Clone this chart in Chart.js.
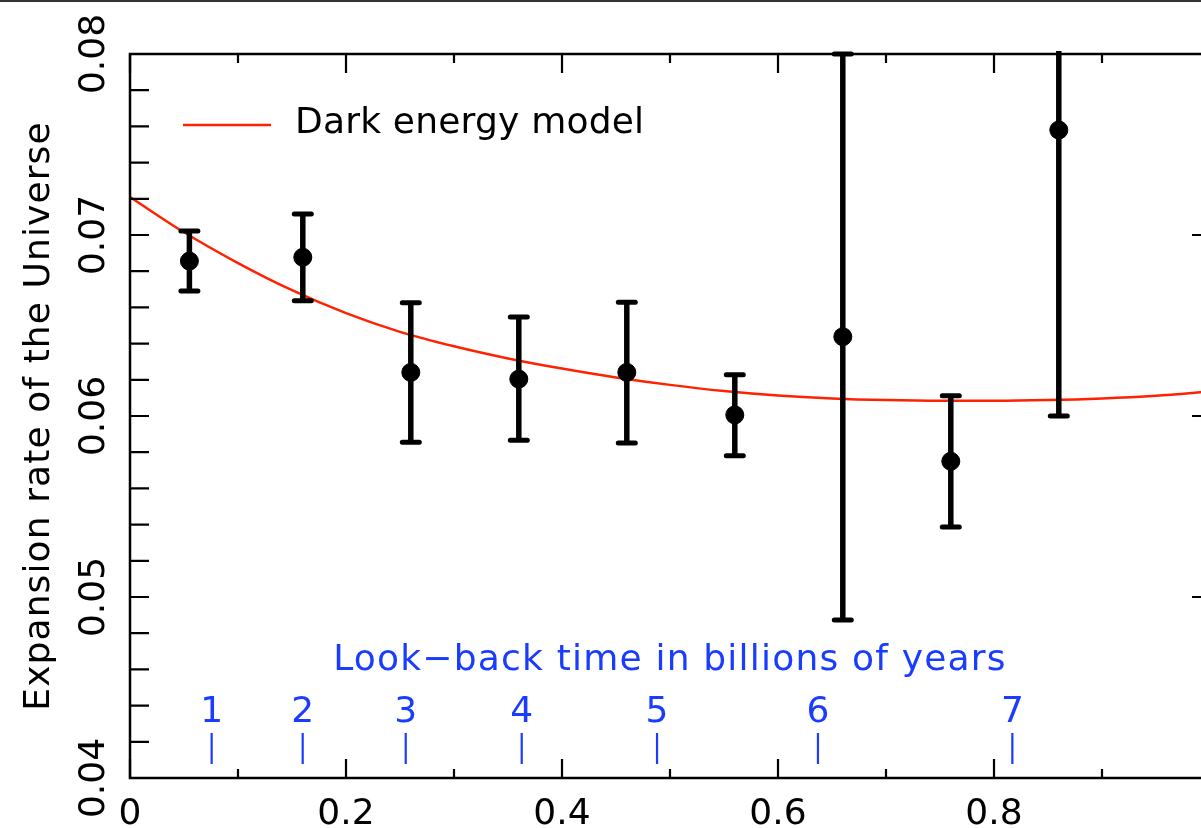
<!DOCTYPE html>
<html><head><meta charset="utf-8">
<script src="https://cdn.jsdelivr.net/npm/chart.js@4.4.0/dist/chart.umd.min.js"></script>
<style>
html,body{margin:0;padding:0;overflow:hidden;background:#fff;width:1201px;height:828px}
canvas{display:block}
</style></head>
<body>
<canvas id="c" width="1220" height="828" style="width:1220px;height:828px"></canvas>
<script>
// ---- data ----
const pointX = [0.055, 0.16, 0.26, 0.36, 0.46, 0.56, 0.66, 0.76, 0.86];
const pointY = [0.06856, 0.06877, 0.06241, 0.06204, 0.06241, 0.06006, 0.06438, 0.0575, 0.0758];
const errLow = [0.06691, 0.06637, 0.05855, 0.05866, 0.05851, 0.05781, 0.04873, 0.05387, 0.0600];
const errHigh = [0.07022, 0.07116, 0.06626, 0.06547, 0.06628, 0.06228, 0.0800, 0.06112, 0.0916];

const modelX = [0, 0.05, 0.1, 0.15, 0.2, 0.25, 0.3, 0.35, 0.4, 0.45, 0.5, 0.55, 0.6, 0.65, 0.7, 0.75, 0.8, 0.85, 0.9, 0.95, 1.0];
const modelY = [0.0721, 0.07015, 0.06845, 0.06695, 0.06568, 0.06465, 0.06385, 0.06318, 0.06262, 0.06213, 0.06172, 0.06138, 0.06113, 0.06097, 0.06088, 0.06084, 0.06084, 0.06088, 0.06097, 0.06112, 0.06135];

const lookbackZ = [0.0756, 0.1599, 0.2553, 0.3627, 0.488, 0.637, 0.817];
const lookbackLabels = ['1', '2', '3', '4', '5', '6', '7'];
const lookbackTitle = 'Look\u2212back time in billions of years';

const xMajorTicks = [0, 0.2, 0.4, 0.6, 0.8, 1.0];
const xMinorTicks = [0.1, 0.3, 0.5, 0.7, 0.9];
const xTickLabels = ['0', '0.2', '0.4', '0.6', '0.8', ''];
const yMajorTicks = [0.04, 0.05, 0.06, 0.07, 0.08];
const yTickLabels = ['0.04', '0.05', '0.06', '0.07', '0.08'];
const yMinorTicks = [0.042, 0.044, 0.046, 0.048, 0.052, 0.054, 0.056, 0.058, 0.062, 0.064, 0.066, 0.068, 0.072, 0.074, 0.076, 0.078];

const yTitle = 'Expansion rate of the Universe';
const modelLabel = 'Dark energy model';

// ---- styles ----
const RED = '#ff2200';
const BLUE = '#1a3cff';
const FONT = '36px "DejaVu Sans", "Liberation Sans", sans-serif';

const decor = {
  id: 'decor',
  beforeDraw(chart) {
    const ctx = chart.ctx;
    ctx.save();
    ctx.fillStyle = '#fff';
    ctx.fillRect(0, 0, chart.width, chart.height);
    ctx.restore();
  },
  afterDatasetsDraw(chart) {
    const ctx = chart.ctx, xs = chart.scales.x, ys = chart.scales.y, a = chart.chartArea;
    ctx.save();
    ctx.beginPath();
    ctx.rect(a.left, a.top - 3, a.right - a.left, a.bottom - a.top + 3);
    ctx.clip();
    ctx.strokeStyle = '#000';
    for (let i = 0; i < pointX.length; i++) {
      const px = xs.getPixelForValue(pointX[i]);
      const pl = ys.getPixelForValue(errLow[i]);
      const ph = ys.getPixelForValue(errHigh[i]);
      ctx.lineWidth = 5.5;
      ctx.lineCap = 'butt';
      ctx.beginPath();
      ctx.moveTo(px, pl); ctx.lineTo(px, ph);
      ctx.stroke();
      ctx.lineWidth = 5;
      ctx.lineCap = 'round';
      ctx.beginPath();
      ctx.moveTo(px - 8.5, pl); ctx.lineTo(px + 8.5, pl);
      ctx.moveTo(px - 8.5, ph); ctx.lineTo(px + 8.5, ph);
      ctx.stroke();
    }
    ctx.restore();
  },
  afterDraw(chart) {
    const ctx = chart.ctx, xs = chart.scales.x, ys = chart.scales.y, a = chart.chartArea;
    ctx.save();
    // outer top border
    ctx.fillStyle = '#333';
    ctx.fillRect(0, 0, chart.width, 2);
    // frame
    ctx.strokeStyle = '#000';
    ctx.lineWidth = 2.5;
    ctx.strokeRect(a.left, a.top, a.right - a.left, a.bottom - a.top);
    // ticks
    ctx.lineWidth = 2.2;
    ctx.beginPath();
    xMajorTicks.forEach(v => {
      const p = xs.getPixelForValue(v);
      ctx.moveTo(p, a.bottom); ctx.lineTo(p, a.bottom - 19);
      ctx.moveTo(p, a.top); ctx.lineTo(p, a.top + 19);
    });
    xMinorTicks.forEach(v => {
      const p = xs.getPixelForValue(v);
      ctx.moveTo(p, a.bottom); ctx.lineTo(p, a.bottom - 9);
      ctx.moveTo(p, a.top); ctx.lineTo(p, a.top + 9);
    });
    yMajorTicks.concat(yMinorTicks).forEach(v => {
      const p = ys.getPixelForValue(v);
      ctx.moveTo(a.left, p); ctx.lineTo(a.left + 19, p);
    });
    yMajorTicks.forEach(v => {
      const p = ys.getPixelForValue(v);
      ctx.moveTo(a.right, p); ctx.lineTo(a.right - 18, p);
    });
    ctx.stroke();

    // tick labels
    ctx.fillStyle = '#000';
    ctx.font = FONT;
    ctx.textAlign = 'center';
    ctx.textBaseline = 'alphabetic';
    xMajorTicks.forEach((v, i) => {
      if (!xTickLabels[i]) return;
      ctx.fillText(xTickLabels[i], xs.getPixelForValue(v), 824);
    });
    yMajorTicks.forEach((v, i) => {
      ctx.save();
      ctx.translate(104, ys.getPixelForValue(v));
      ctx.rotate(-Math.PI / 2);
      ctx.fillText(yTickLabels[i], 0, 0);
      ctx.restore();
    });
    // y title
    ctx.save();
    ctx.translate(49, (a.top + a.bottom) / 2);
    ctx.rotate(-Math.PI / 2);
    if ('letterSpacing' in ctx) ctx.letterSpacing = '1.1px';
    ctx.fillText(yTitle, 0, 0);
    ctx.restore();

    // legend
    const ds = chart.data.datasets[1];
    ctx.strokeStyle = ds.borderColor;
    ctx.lineWidth = 2.5;
    ctx.beginPath();
    ctx.moveTo(183, 125); ctx.lineTo(271, 125);
    ctx.stroke();
    ctx.textAlign = 'left';
    ctx.fillStyle = '#000';
    if ('letterSpacing' in ctx) ctx.letterSpacing = '0.2px';
    ctx.fillText(ds.label, 295, 133);

    // look-back time axis
    ctx.fillStyle = BLUE;
    ctx.strokeStyle = BLUE;
    ctx.textAlign = 'center';
    if ('letterSpacing' in ctx) ctx.letterSpacing = '1.2px';
    ctx.fillText(lookbackTitle, xs.getPixelForValue(0.5), 670);
    if ('letterSpacing' in ctx) ctx.letterSpacing = '0px';
    ctx.lineWidth = 2.2;
    ctx.beginPath();
    lookbackZ.forEach((z, i) => {
      const p = xs.getPixelForValue(z);
      ctx.moveTo(p, 733); ctx.lineTo(p, 764);
      ctx.fillText(lookbackLabels[i], p, 722);
    });
    ctx.stroke();
    ctx.restore();
  }
};

new Chart(document.getElementById('c'), {
  type: 'scatter',
  data: {
    datasets: [
      {
        label: 'Data',
        data: pointX.map((x, i) => ({ x: x, y: pointY[i] })),
        backgroundColor: '#000',
        borderColor: '#000',
        pointRadius: 9,
        pointHoverRadius: 9,
        showLine: false
      },
      {
        label: modelLabel,
        data: modelX.map((x, i) => ({ x: x, y: modelY[i] })),
        borderColor: RED,
        backgroundColor: RED,
        borderWidth: 2.5,
        pointRadius: 0,
        showLine: true,
        cubicInterpolationMode: 'monotone'
      }
    ]
  },
  options: {
    responsive: false,
    devicePixelRatio: 1,
    animation: false,
    layout: { padding: { left: 130, top: 54, right: 10, bottom: 50 } },
    plugins: { legend: { display: false }, tooltip: { enabled: false } },
    scales: {
      x: { type: 'linear', min: 0, max: 1, display: false },
      y: { type: 'linear', min: 0.04, max: 0.08, display: false }
    }
  },
  plugins: [decor]
});
</script>
</body></html>
